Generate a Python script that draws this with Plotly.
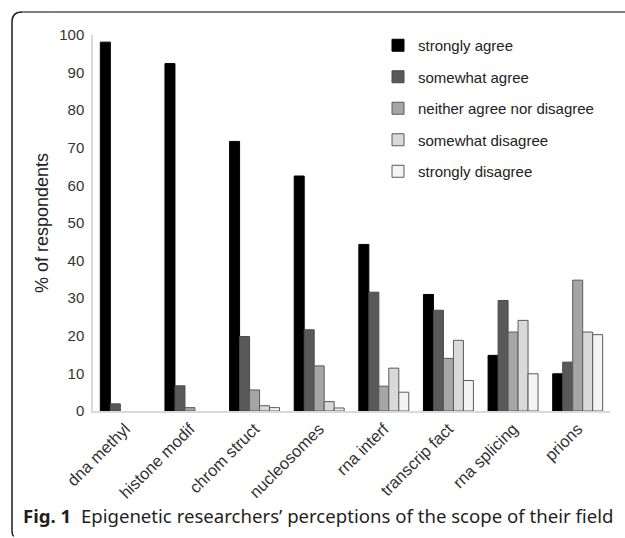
import plotly.graph_objects as go

categories = ["dna methyl", "histone modif", "chrom struct", "nucleosomes",
              "rna interf", "transcrip fact", "rna splicing", "prions"]
strongly_agree = [98.1, 92.4, 71.7, 62.5, 44.3, 31.0, 14.8, 9.9]
somewhat_agree = [1.9, 6.7, 19.8, 21.6, 31.6, 26.8, 29.4, 13.0]
neither = [0, 0.9, 5.6, 12.0, 6.6, 14.0, 21.0, 34.8]
somewhat_disagree = [0, 0, 1.4, 2.5, 11.4, 18.8, 24.1, 21.0]
strongly_disagree = [0, 0, 0.9, 0.8, 5.0, 8.1, 9.9, 20.3]

series = [
    ("strongly agree", strongly_agree, "#000000", "#000000"),
    ("somewhat agree", somewhat_agree, "#595959", "#4a4a4a"),
    ("neither agree nor disagree", neither, "#a6a6a6", "#5a5a5a"),
    ("somewhat disagree", somewhat_disagree, "#d9d9d9", "#5a5a5a"),
    ("strongly disagree", strongly_disagree, "#f4f4f4", "#5a5a5a"),
]

FONT = "Arial"

fig = go.Figure()
for i, (name, vals, col, lcol) in enumerate(series):
    fig.add_trace(go.Bar(
        x=categories, y=[v if v > 0 else None for v in vals],
        name=name, legendgroup=f"g{i}",
        marker=dict(color=col, line=dict(color=lcol, width=1)),
    ))

# plot area pixel geometry
L, R, T, B = 93, 15, 35, 127
W, H = 625, 538
pw = W - L - R
ph = H - T - B

def px(x):
    return (x - L) / pw

def py(y):
    return (H - B - y) / ph

x0 = px(12)
ytop = py(12)
ybot = py(536)
rx = 10 / pw
ry = 10 / ph

fig.add_shape(type="path", xref="paper", yref="paper",
              path=f"M {px(14)},{ybot} Q {x0},{ybot} {x0},{ybot + ry*0.6} "
                   f"L {x0},{ytop - ry} Q {x0},{ytop} {x0 + rx},{ytop}",
              line=dict(color="#1a1a1a", width=1.5))
fig.add_shape(type="line", xref="paper", yref="paper",
              x0=x0 + rx, x1=px(626), y0=ytop, y1=ytop,
              line=dict(color="#808080", width=2))

fig.add_annotation(
    xref="paper", yref="paper", x=px(21), y=py(515),
    xanchor="left", yanchor="middle", showarrow=False,
    text="<b>Fig. 1</b>  Epigenetic researchers’ perceptions of the scope of their field",
    font=dict(family="Noto Sans", size=18.6, color="#231f20"),
)

fig.update_layout(
    width=W, height=H,
    margin=dict(l=L, r=R, t=T, b=B, autoexpand=False),
    paper_bgcolor="white", plot_bgcolor="white",
    barmode="group", bargap=0.227, bargroupgap=0,
    font=dict(family=FONT, color="#333333"),
    showlegend=True,
    legend=dict(
        x=px(378), y=py(29), xanchor="left", yanchor="top",
        bgcolor="rgba(0,0,0,0)", font=dict(family=FONT, size=15, color="#222222"),
        tracegroupgap=9, itemwidth=30,
    ),
    yaxis=dict(
        range=[0, 100], dtick=10, showgrid=False, zeroline=False,
        showline=True, linecolor="#d9d9d9", linewidth=1.5,
        ticks="", ticklabelstandoff=4,
        tickfont=dict(family=FONT, size=15, color="#333333"),
        title=dict(text="% of respondents", font=dict(family=FONT, size=18, color="#222222"),
                   standoff=6),
    ),
    xaxis=dict(
        showgrid=False, showline=True, linecolor="#d9d9d9", linewidth=1.5,
        ticks="", tickangle=-45, tickfont=dict(family=FONT, size=16.5, color="#333333"),
    ),
)

fig.write_html("out.html", config={"displayModeBar": False},
               post_script="document.body.style.margin='0px';")
